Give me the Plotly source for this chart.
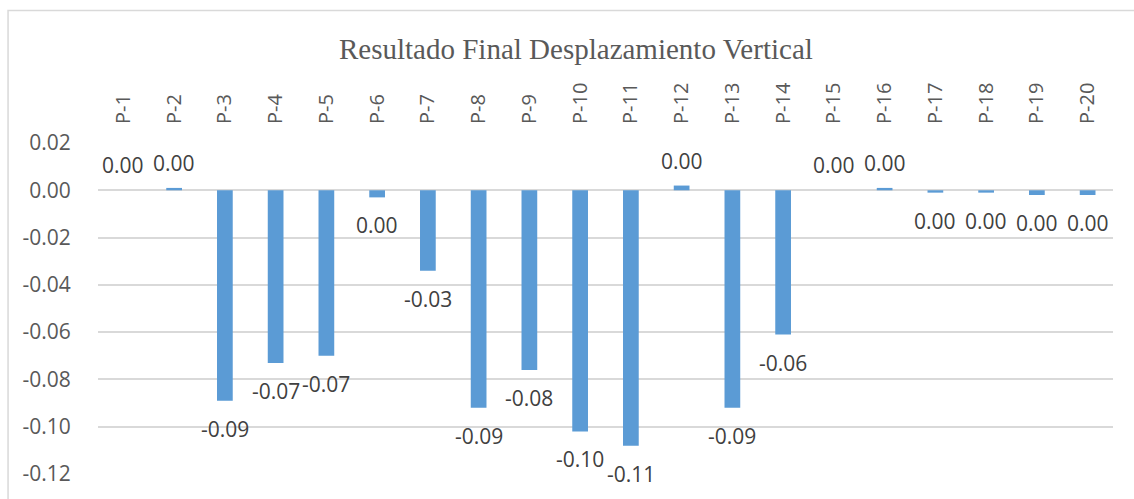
import plotly.graph_objects as go

categories = ["P-1", "P-2", "P-3", "P-4", "P-5", "P-6", "P-7", "P-8", "P-9", "P-10",
              "P-11", "P-12", "P-13", "P-14", "P-15", "P-16", "P-17", "P-18", "P-19", "P-20"]
values = [0.000, 0.001, -0.089, -0.073, -0.070, -0.003, -0.034, -0.092, -0.076, -0.102,
          -0.108, 0.002, -0.092, -0.061, 0.000, 0.001, -0.001, -0.001, -0.002, -0.002]
y_tickvals = [0.02, 0.00, -0.02, -0.04, -0.06, -0.08, -0.10, -0.12]
y_ticktext = ["0.02", "0.00", "-0.02", "-0.04", "-0.06", "-0.08", "-0.10", "-0.12"]
title_text = "Resultado Final Desplazamiento Vertical"

W, H = 1134, 499
ML, MR, MT, MB = 97.5, 21, 143, 21
PW = W - ML - MR
PH = H - MT - MB


def fmt(v):
    s = f"{v:.2f}"
    return "0.00" if s == "-0.00" else s


fig = go.Figure()
fig.add_trace(go.Bar(
    x=categories, y=values,
    marker=dict(color="#5B9BD5", line=dict(width=0)),
    hoverinfo="x+y",
))

annotations = []
for c, v in zip(categories, values):
    annotations.append(dict(
        x=c, y=v, xref="x", yref="y", text=fmt(v), showarrow=False,
        yshift=25 if v >= 0 else -28,
        font=dict(family="Open Sans, Liberation Sans, sans-serif", size=21, color="#404040"),
    ))

annotations.append(dict(
    x=(575.5 - ML) / PW, y=(H - MB - 48) / PH, xref="paper", yref="paper",
    text=title_text, showarrow=False, xanchor="center", yanchor="middle",
    font=dict(family="Liberation Serif, Times New Roman, serif", size=29, color="#595959"),
))

fig.update_layout(
    width=W, height=H,
    margin=dict(l=ML, r=MR, t=MT, b=MB, pad=0),
    paper_bgcolor="white", plot_bgcolor="white",
    bargap=0.69,
    showlegend=False,
    annotations=annotations,
    shapes=[dict(
        type="rect", xref="paper", yref="paper",
        x0=(7.5 - ML) / PW, x1=(W + 10 - ML) / PW,
        y0=(H - MB - (H + 10)) / PH, y1=(H - MB - 9) / PH,
        line=dict(color="#D9D9D9", width=1.5), fillcolor="rgba(0,0,0,0)", layer="below",
    )],
)

fig.update_xaxes(
    side="top", tickangle=-90, type="category",
    tickfont=dict(family="Open Sans, Liberation Sans, sans-serif", size=20, color="#595959"),
    showgrid=False, showline=False, zeroline=False,
    ticks="outside", ticklen=14, tickcolor="rgba(0,0,0,0)",
    range=[-0.5, len(categories) - 0.5],
)
fig.update_yaxes(
    range=[-0.12, 0.02],
    tickvals=y_tickvals, ticktext=y_ticktext,
    tickfont=dict(family="Open Sans, Liberation Sans, sans-serif", size=21, color="#595959"),
    showgrid=True, gridcolor="#D9D9D9", gridwidth=1.5,
    zeroline=True, zerolinecolor="#D9D9D9", zerolinewidth=1.5,
    showline=False,
    ticks="outside", ticklen=22, tickcolor="rgba(0,0,0,0)",
)

fig.write_html("out.html")
